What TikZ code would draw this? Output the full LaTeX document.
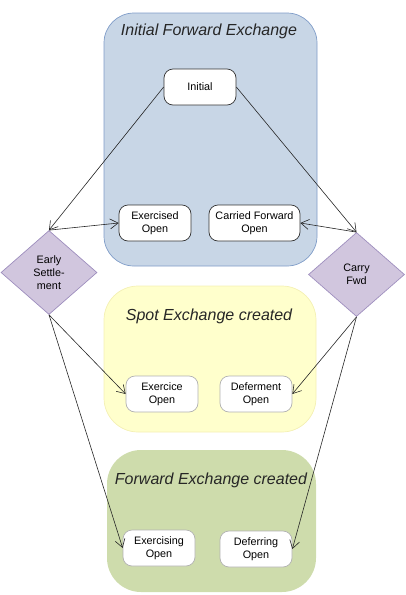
\documentclass[tikz,border=0pt]{standalone}
\usepackage{fontspec}
\setmainfont{Liberation Sans}
\usetikzlibrary{arrows.meta,shapes.geometric}
\definecolor{bluefill}{HTML}{C8D6E6}
\definecolor{blueline}{HTML}{7F9CC8}
\definecolor{yelfill}{HTML}{FFFFCC}
\definecolor{yelline}{HTML}{F4F0B4}
\definecolor{grnfill}{HTML}{CEDCAC}
\definecolor{dmdfill}{HTML}{D1C6DE}
\definecolor{dmdline}{HTML}{9E8EBE}
\tikzset{
  x=1pt,y=-1pt,
  box/.style={draw=#1, line width=0.7pt, rounded corners=9pt, fill=white, minimum width=72pt, minimum height=36pt, align=center, font=\fontsize{10.8}{13}\selectfont, inner sep=1pt},
  box/.default={black!80},
  dmd/.style={diamond, draw=dmdline, fill=dmdfill, line width=0.7pt, minimum width=96pt, minimum height=84pt, align=center, font=\fontsize{10.8}{13}\selectfont, inner sep=0pt, aspect=1.15},
  ttl/.style={font=\fontsize{16}{19}\selectfont\itshape, text=black!85},
  arr/.style={-{Straight Barb[length=8pt,width=10pt]}, line width=0.6pt, black!85},
}
\begin{document}
\begin{tikzpicture}
\useasboundingbox (0,0) rectangle (406,595);
% containers
\filldraw[fill=bluefill, draw=blueline, line width=0.7pt, rounded corners=30pt] (104,13) rectangle (317,266);
\filldraw[fill=yelfill, draw=yelline, line width=0.7pt, rounded corners=34pt] (104,286) rectangle (316,432);
\fill[grnfill, rounded corners=34pt] (107,450) rectangle (316,592);
\node[ttl] (t1) at (209,31) {Initial Forward Exchange};
\node[ttl] (t2) at (209,316) {Spot Exchange created};
\node[ttl] (t3) at (211,480) {Forward Exchange created};
% nodes
\node[box] (init) at (200,87) {Initial};
\node[box] (exd) at (155,223) {Exercised\\Open};
\node[box, minimum width=91pt] (cfo) at (254.5,223) {Carried Forward\\Open};
\node[box=black!30] (exo) at (162,394) {Exercice\\Open};
\node[box=black!30] (dfo) at (256,394) {Deferment\\Open};
\node[box=black!30] (exg) at (159,548) {Exercising\\Open};
\node[box=black!30] (dfg) at (256,549) {Deferring\\Open};
\node[dmd] (es) at (49,272.5) {Early\\Settle-\\ment};
\node[dmd] (cf) at (356.5,274.5) {Carry\\Fwd};
% connectors
\draw[arr] (init.west) -- (es.north);
\draw[arr] (init.east) -- (cf.north);
\draw[arr] (es.north) -- (exd.west);
\draw[arr] (cf.north) -- (cfo.east);
\draw[arr] (es.south) -- (exo.west);
\draw[arr] (es.south) -- (exg.west);
\draw[arr] (cf.south) -- (dfo.east);
\draw[arr] (cf.south) -- (dfg.east);
\end{tikzpicture}
\end{document}
